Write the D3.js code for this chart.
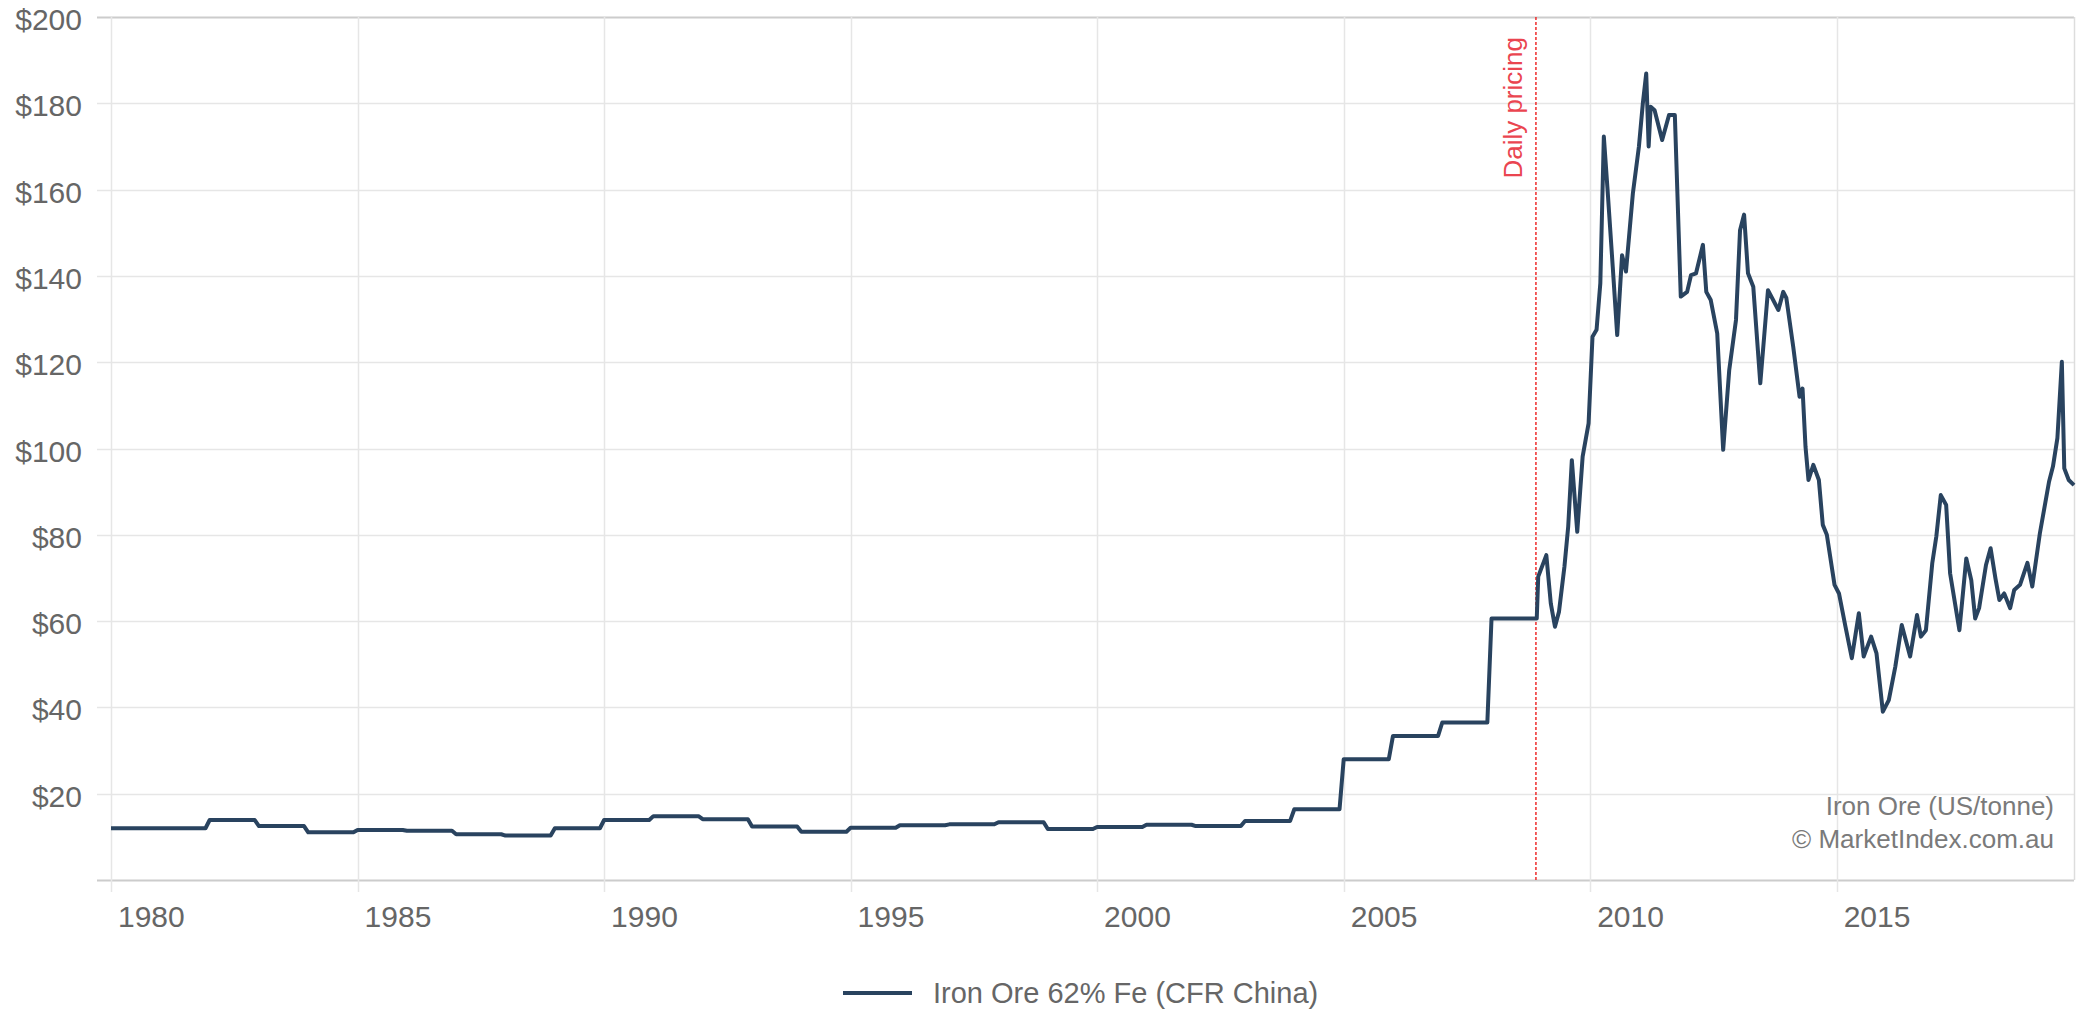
<!DOCTYPE html>
<html>
<head>
<meta charset="utf-8">
<script src="https://d3js.org/d3.v7.min.js"></script>
<style>
  body { margin: 0; background: #fff; }
  text { font-family: "Liberation Sans", Arial, sans-serif; }
</style>
</head>
<body>
<svg width="2079" height="1012"></svg>
<script>
// yearly contract prices (one value held for the whole year)
var contractYears = d3.range(1980, 2009);
var contractPrices = [12.0, 12.0, 13.9, 12.5, 11.05, 11.6, 11.4, 10.6, 10.3, 12.0,
                      13.9, 14.8, 14.1, 12.4, 11.2, 12.1, 12.7, 12.9, 13.4, 11.8,
                      12.3, 12.8, 12.5, 13.7, 16.4, 28.0, 33.4, 36.5, 60.6];

// spot prices after daily pricing started
var spotDates = ["2008-12-12","2009-02-10","2009-03-15","2009-04-15","2009-05-15","2009-06-24","2009-07-22","2009-08-18","2009-09-27","2009-11-06","2009-12-20",
                 "2010-01-18","2010-02-17","2010-03-17","2010-04-12","2010-05-08","2010-06-17","2010-07-20","2010-08-25","2010-09-23","2010-11-13","2010-12-28",
                 "2011-01-26","2011-02-20","2011-03-10","2011-03-25","2011-04-23","2011-06-18","2011-08-08","2011-09-20","2011-11-03","2011-12-20",
                 "2012-01-18","2012-02-24","2012-04-15","2012-05-10","2012-06-12","2012-07-30","2012-09-12","2012-10-27","2012-12-16",
                 "2013-01-15","2013-02-14","2013-03-15","2013-04-23","2013-06-14","2013-08-10","2013-10-26","2013-12-01","2013-12-24",
                 "2014-02-13","2014-04-01","2014-04-23","2014-05-15","2014-06-06","2014-07-12","2014-08-22","2014-09-20","2014-10-20","2014-12-16",
                 "2015-01-18","2015-03-07","2015-04-23","2015-06-14","2015-07-20","2015-09-13","2015-10-23","2015-12-09",
                 "2016-01-22","2016-03-10","2016-04-27","2016-06-28","2016-08-18","2016-09-16","2016-10-23","2016-12-09",
                 "2017-01-08","2017-02-10","2017-03-22","2017-04-20","2017-06-28","2017-08-18","2017-09-24","2017-10-23","2017-11-21",
                 "2018-01-11","2018-02-14","2018-03-22","2018-04-20","2018-05-26","2018-07-09","2018-08-08","2018-09-20","2018-11-14","2018-12-20",
                 "2019-02-14","2019-04-23","2019-05-22","2019-06-24","2019-07-27","2019-08-14","2019-09-16","2019-10-25"];
var spotPrices = [70.3, 75.3, 64.1, 58.7, 62.2, 72.6, 81.9, 97.3, 80.7, 98.1, 105.8,
                  125.9, 127.5, 138.3, 172.3, 160.7, 142.1, 126.3, 144.8, 141, 159.1, 170,
                  180, 186.9, 170, 179.2, 178.4, 171.5, 177.3, 177.3, 135.2, 136.3,
                  140.2, 140.6, 147.2, 136.3, 134.4, 126.7, 99.7, 118.2, 129.8,
                  150.6, 154.2, 140.6, 137.5, 115.1, 136.7, 132.1, 136.3, 134.9,
                  123.6, 112, 113.9, 100.4, 92.7, 96.2, 92.7, 82.3, 80, 68.4,
                  66.4, 58.7, 51.4, 61.8, 51.8, 56.4, 52.5, 39,
                  41.7, 49.4, 59.1, 51.8, 61.4, 56.4, 57.9, 73.4,
                  79.6, 89.2, 86.9, 71.1, 57.9, 74.5, 69.5, 60.6, 63,
                  73, 76.9, 69.9, 64.9, 66.4, 63, 67.2, 68.4, 73.5, 68,
                  80.3, 92.3, 95.8, 102.4, 120.1, 95.4, 92.7, 91.5];

var yTicks = [0, 20, 40, 60, 80, 100, 120, 140, 160, 180, 200];
var dailyPricingDate = "2008-11-25";
var seriesName = "Iron Ore 62% Fe (CFR China)";
var creditLines = ["Iron Ore (US/tonne)", "\u00a9 MarketIndex.com.au"];

var parseDate = d3.timeParse("%Y-%m-%d");

// each contract year drawn from Jan to Dec at the same price
var points = [];
contractYears.forEach(function(yr, i) {
    points.push({date: new Date(yr, 0, 1), value: contractPrices[i]});
    points.push({date: new Date(yr, 11, 1), value: contractPrices[i]});
});
spotDates.forEach(function(d, i) {
    points.push({date: parseDate(d), value: spotPrices[i]});
});

var svg = d3.select("svg"),
    plotLeft = 111, plotRight = 2074, plotTop = 17, plotBottom = 880;

var x = d3.scaleTime()
    .domain(d3.extent(points, function(d) { return d.date; }))
    .range([plotLeft, plotRight]);

var y = d3.scaleLinear()
    .domain([0, 200])
    .range([plotBottom, plotTop]);

var textColor = "#666666",
    lineColor = "#29435f";

// horizontal grid + y tick stubs
svg.append("g").selectAll("line")
    .data(yTicks)
    .enter().append("line")
    .attr("x1", plotLeft - 14)
    .attr("x2", plotRight)
    .attr("y1", function(d) { return Math.round(y(d)) + 0.5; })
    .attr("y2", function(d) { return Math.round(y(d)) + 0.5; })
    .attr("stroke", function(d) { return (d == 0 || d == 200) ? "#cccccc" : "#e6e6e6"; })
    .attr("stroke-width", function(d) { return (d == 0 || d == 200) ? 2 : 1.5; });

svg.append("g").selectAll("text")
    .data(yTicks.filter(function(d) { return d > 0; }))
    .enter().append("text")
    .attr("x", 82)
    .attr("y", function(d) { return y(d) + 13; })
    .attr("text-anchor", "end")
    .attr("font-size", 30)
    .attr("fill", textColor)
    .text(function(d) { return "$" + d; });

// vertical grid every 5 years
var xTicks = x.ticks(d3.timeYear.every(5));

svg.append("g").selectAll("line")
    .data(xTicks)
    .enter().append("line")
    .attr("x1", function(d) { return Math.round(x(d)) + 0.5; })
    .attr("x2", function(d) { return Math.round(x(d)) + 0.5; })
    .attr("y1", plotTop)
    .attr("y2", plotBottom + 12)
    .attr("stroke", "#e6e6e6")
    .attr("stroke-width", 1.5);

svg.append("g").selectAll("text")
    .data(xTicks)
    .enter().append("text")
    .attr("x", function(d) { return x(d) + 7; })
    .attr("y", 927)
    .attr("font-size", 30)
    .attr("fill", textColor)
    .text(d3.timeFormat("%Y"));

// right border
svg.append("line")
    .attr("x1", plotRight + 0.5).attr("x2", plotRight + 0.5)
    .attr("y1", plotTop).attr("y2", plotBottom)
    .attr("stroke", "#dddddd")
    .attr("stroke-width", 1.5);

// daily pricing marker
var dpx = x(parseDate(dailyPricingDate));
svg.append("line")
    .attr("x1", dpx).attr("x2", dpx)
    .attr("y1", plotTop).attr("y2", plotBottom)
    .attr("stroke", "#ee2b2b")
    .attr("stroke-width", 1.5)
    .attr("stroke-dasharray", "3,2");

svg.append("text")
    .attr("transform", "translate(" + (dpx - 14) + "," + 37 + ") rotate(-90)")
    .attr("text-anchor", "end")
    .attr("font-size", 26)
    .attr("fill", "#ea4550")
    .text("Daily pricing");

// credits inside the plot
svg.append("g").selectAll("text")
    .data(creditLines)
    .enter().append("text")
    .attr("x", 2054)
    .attr("y", function(d, i) { return 815 + i * 33; })
    .attr("text-anchor", "end")
    .attr("font-size", 26)
    .attr("fill", "#7a7a7a")
    .text(function(d) { return d; });

// the price line
var line = d3.line()
    .x(function(d) { return x(d.date); })
    .y(function(d) { return y(d.value); });

svg.append("path")
    .datum(points)
    .attr("d", line)
    .attr("fill", "none")
    .attr("stroke", lineColor)
    .attr("stroke-width", 4)
    .attr("stroke-linejoin", "round");

// legend
var legend = svg.append("g");
legend.append("line")
    .attr("x1", 843).attr("x2", 912)
    .attr("y1", 993).attr("y2", 993)
    .attr("stroke", lineColor)
    .attr("stroke-width", 4);
legend.append("text")
    .attr("x", 933)
    .attr("y", 1003)
    .attr("font-size", 29)
    .attr("fill", textColor)
    .text(seriesName);
</script>
</body>
</html>
